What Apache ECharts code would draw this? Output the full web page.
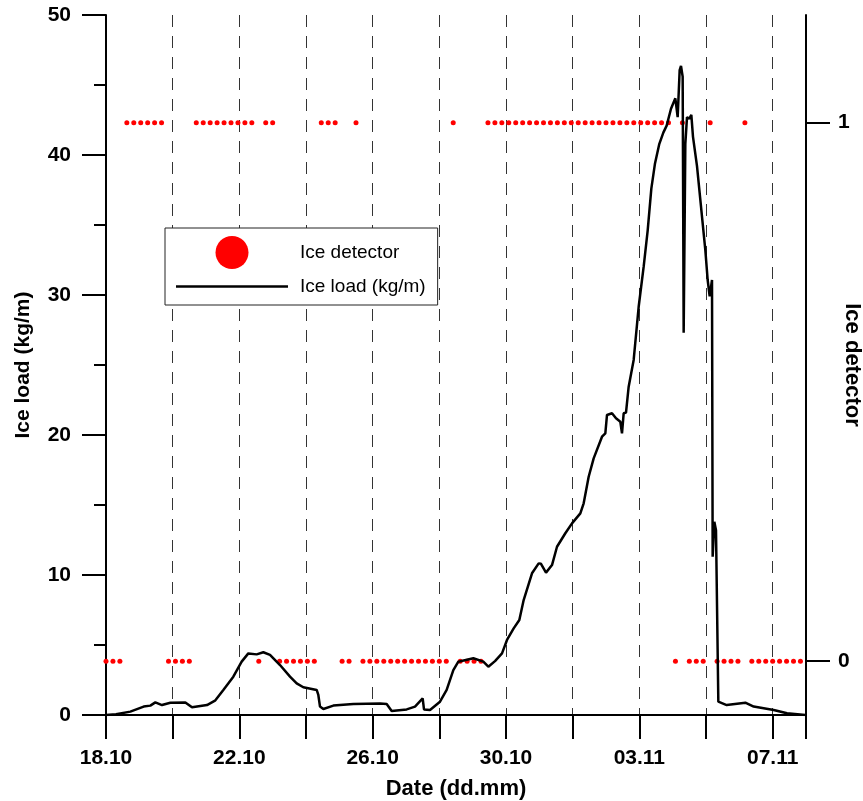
<!DOCTYPE html>
<html>
<head>
<meta charset="utf-8">
<script src="https://cdn.jsdelivr.net/npm/echarts@6/dist/echarts.min.js"></script>
<style>
  html, body { margin: 0; padding: 0; background: #fff; }
  #chart { width: 863px; height: 801px; }
</style>
</head>
<body>
<div id="chart"></div>
<script>
// x in days since 18.10 00:00
const dateLabels = ['18.10', '22.10', '26.10', '30.10', '03.11', '07.11'];

// ice load (kg/m)
const loadDays = [
  0, 0.3, 0.73, 1.13, 1.33, 1.48, 1.68, 1.93, 2.38, 2.58, 3.03, 3.27, 3.52, 3.82, 4.07,
  4.27, 4.52, 4.72, 4.92, 5.22, 5.52, 5.72, 5.92, 6.32, 6.37, 6.42, 6.52, 6.82, 7.42,
  8.22, 8.42, 8.57, 9.02, 9.27, 9.5, 9.54, 9.72, 10.02, 10.22, 10.42, 10.57, 11.02,
  11.32, 11.47, 11.67, 11.88, 12.03, 12.23, 12.4, 12.53, 12.78, 12.98, 13.05, 13.2,
  13.38, 13.53, 13.78, 13.98, 14.23, 14.33, 14.48, 14.63, 14.88, 14.98, 15.03, 15.18,
  15.3, 15.43, 15.48, 15.53, 15.6, 15.68, 15.83, 15.98, 16.13, 16.25, 16.36, 16.47,
  16.6, 16.72, 16.82, 16.95, 17.08, 17.15, 17.21, 17.25, 17.3, 17.33, 17.38, 17.43,
  17.5, 17.56, 17.61, 17.73, 17.88, 17.98, 18.05, 18.11, 18.18, 18.2, 18.25, 18.3,
  18.37, 18.62, 19.18, 19.43, 20.03, 20.43, 20.98
];
const loadValues = [
  0, 0.05, 0.24, 0.6, 0.67, 0.9, 0.71, 0.88, 0.9, 0.55, 0.71, 1.02, 1.79, 2.74, 3.81,
  4.4, 4.33, 4.48, 4.29, 3.57, 2.74, 2.26, 1.98, 1.79, 1.43, 0.6, 0.43, 0.67, 0.79,
  0.83, 0.79, 0.29, 0.4, 0.6, 1.19, 0.4, 0.36, 0.95, 1.79, 3.21, 3.81, 4.05,
  3.81, 3.45, 3.85, 4.4, 5.36, 6.19, 6.79, 8.21, 10.12, 10.83, 10.8, 10.17,
  10.71, 12.02, 12.98, 13.69, 14.4, 15.12, 17.02, 18.33, 19.88, 20.12, 21.43, 21.55,
  21.19, 20.95, 20.12, 21.55, 21.6, 23.45, 25.36, 29.16, 32.02, 34.6, 37.6, 39.4,
  40.8, 41.6, 42.1, 43.3, 44.05, 42.7, 46.07, 46.36, 45.6, 27.3, 40.8, 42.7,
  42.6, 42.86, 41.3, 39.2, 35.6, 33.2, 31.07, 29.9, 31.07, 11.3, 13.8, 13.2,
  0.95, 0.71, 0.88, 0.6, 0.36, 0.12, 0
];

// ice detector state, one reading every 5 hours from 18.10 00:00
const detectorStepHours = 5;
const detectorValues = [
  0, 0, 0, 1, 1, 1, 1, 1, 1, 0, 0, 0, 0, 1, 1, 1, 1, 1, 1, 1, 1, 1, 0, 1, 1,
  0, 0, 0, 0, 0, 0, 1, 1, 1, 0, 0, 1, 0, 0, 0, 0, 0, 0, 0, 0, 0, 0, 0, 0, 0,
  1, 0, 0, 0, 0, 1, 1, 1, 1, 1, 1, 1, 1, 1, 1, 1, 1, 1, 1, 1, 1, 1, 1, 1, 1,
  1, 1, 1, 1, 1, 1, 1, 0, 1, 0, 0, 0, 1, 0, 0, 0, 0, 1, 0, 0, 0, 0, 0, 0, 0, 0
];

const loadData = loadDays.map((d, i) => [d, loadValues[i]]);
const detectorData = detectorValues.map((v, k) => [k * detectorStepHours / 24, v]);

const font = 'Liberation Sans, Arial, sans-serif';
const axisFont = { fontFamily: font, fontSize: 21, fontWeight: 'bold', color: '#000' };
const nameFont = { fontFamily: font, fontSize: 22, fontWeight: 'bold', color: '#000' };
const chart = echarts.init(document.getElementById('chart'));

chart.setOption({
  backgroundColor: '#ffffff',
  animation: false,
  grid: { left: 106, right: 57, top: 15, bottom: 86, outerBoundsMode: 'none' },
  legend: {
    orient: 'vertical',
    left: 165,
    top: 228,
    padding: [8, 12, 9, 11],
    itemWidth: 112,
    itemHeight: 33,
    itemGap: 8,
    borderColor: '#222',
    borderWidth: 1,
    backgroundColor: '#fff',
    textStyle: { fontFamily: font, fontSize: 19, color: '#000', padding: [0, 0, 0, 7] },
    data: [
      { name: 'Ice detector', icon: 'circle' },
      { name: 'Ice load (kg/m)', icon: 'path://M0,0L112,0L112,2.5L0,2.5Z' }
    ]
  },
  xAxis: {
    type: 'value',
    min: 0,
    max: 21,
    interval: 2,
    name: 'Date (dd.mm)',
    nameLocation: 'middle',
    nameGap: 63,
    nameMoveOverlap: false,
    nameTextStyle: nameFont,
    axisLine: { lineStyle: { color: '#000', width: 2 } },
    axisTick: { length: 24, lineStyle: { color: '#000', width: 2 } },
    axisLabel: Object.assign({
      margin: 33,
      formatter: v => (v % 4 === 0 ? dateLabels[v / 4] : '')
    }, axisFont),
    splitLine: { show: true, lineStyle: { color: '#333', width: 1, type: [12, 9] } }
  },
  yAxis: [
    {
      type: 'value',
      min: 0,
      max: 50,
      interval: 10,
      name: 'Ice load (kg/m)',
      nameLocation: 'middle',
      nameGap: 72,
      nameMoveOverlap: false,
      nameTextStyle: Object.assign({}, nameFont, { fontSize: 21 }),
      axisLine: { show: true, lineStyle: { color: '#000', width: 2 } },
      axisTick: { show: true, length: 24, lineStyle: { color: '#000', width: 2 } },
      minorTick: { show: true, splitNumber: 2, length: 12, lineStyle: { color: '#000', width: 2 } },
      axisLabel: Object.assign({ margin: 35 }, axisFont),
      splitLine: { show: false }
    },
    {
      type: 'value',
      position: 'right',
      min: -0.1,
      max: 1.2,
      name: 'Ice detector',
      nameLocation: 'middle',
      nameRotate: -90,
      nameGap: 35,
      nameMoveOverlap: false,
      nameTextStyle: nameFont,
      axisLine: { show: true, lineStyle: { color: '#000', width: 2 } },
      axisTick: { show: true, length: 24, customValues: [0, 1], lineStyle: { color: '#000', width: 2 } },
      axisLabel: Object.assign({ margin: 32, customValues: [0, 1] }, axisFont),
      splitLine: { show: false }
    }
  ],
  series: [
    {
      name: 'Ice detector',
      type: 'scatter',
      yAxisIndex: 1,
      symbol: 'circle',
      symbolSize: 5,
      itemStyle: { color: '#ff0000', opacity: 1 },
      z: 2,
      data: detectorData
    },
    {
      name: 'Ice load (kg/m)',
      type: 'line',
      yAxisIndex: 0,
      symbol: 'none',
      lineStyle: { color: '#000', width: 2.5 },
      itemStyle: { color: '#000' },
      z: 3,
      data: loadData
    }
  ]
});
</script>
</body>
</html>
